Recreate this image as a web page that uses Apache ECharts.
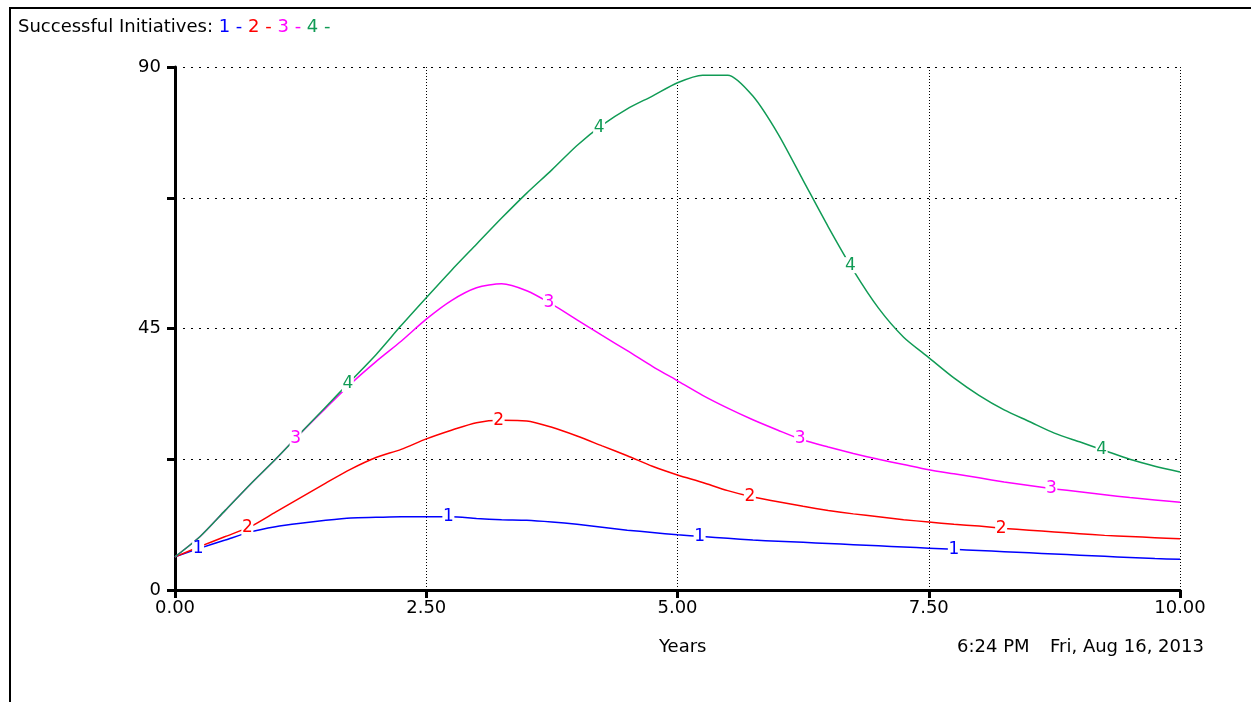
<!DOCTYPE html>
<html>

<head>
    <meta charset="utf-8" />
    <title>Successful Initiatives</title>
    <script src="https://cdn.jsdelivr.net/npm/echarts@6/dist/echarts.min.js"></script>
    <style>
        html, body { margin: 0; padding: 0; background: #fff; }
        #chart { width: 1251px; height: 702px; }
    </style>
</head>

<body>
    <div id="chart"></div>

    <script type="text/javascript">
        // time axis (years), step 0.25
        var years = [0, 0.25, 0.5, 0.75, 1, 1.25, 1.5, 1.75, 2, 2.25, 2.5, 2.75, 3, 3.25, 3.5, 3.75, 4, 4.25, 4.5, 4.75,
            5, 5.25, 5.5, 5.75, 6, 6.25, 6.5, 6.75, 7, 7.25, 7.5, 7.75, 8, 8.25, 8.5, 8.75, 9, 9.25, 9.5, 9.75, 10];

        var run1 = [5.7, 7.2, 8.6, 10.0, 10.9, 11.5, 12.0, 12.4, 12.5, 12.6, 12.6, 12.6, 12.3, 12.1, 12.0, 11.7, 11.3, 10.8, 10.3, 9.9,
            9.5, 9.2, 8.9, 8.6, 8.4, 8.2, 8.0, 7.8, 7.6, 7.4, 7.2, 7.0, 6.8, 6.6, 6.4, 6.2, 6.0, 5.8, 5.6, 5.4, 5.3];
        var run2 = [5.7, 7.5, 9.2, 10.9, 13.4, 15.9, 18.4, 20.8, 22.8, 24.2, 26.0, 27.5, 28.8, 29.2, 29.1, 28.0, 26.5, 24.8, 23.1, 21.3,
            19.8, 18.5, 17.1, 16.0, 15.2, 14.4, 13.7, 13.1, 12.6, 12.1, 11.7, 11.3, 11.0, 10.6, 10.3, 10.0, 9.7, 9.4, 9.2, 9.0, 8.8];
        var run3 = [5.7, 9.2, 13.7, 18.2, 22.5, 27.0, 31.3, 35.5, 39.3, 42.8, 46.6, 49.8, 52.0, 52.7, 51.5, 49.2, 46.5, 43.8, 41.2, 38.5,
            36.0, 33.5, 31.3, 29.3, 27.5, 25.8, 24.6, 23.5, 22.5, 21.6, 20.7, 20.0, 19.3, 18.6, 18.0, 17.4, 16.9, 16.4, 15.9, 15.5, 15.1];
        var run4 = [5.7, 9.2, 13.7, 18.2, 22.5, 27.0, 31.5, 36.0, 40.5, 45.5, 50.3, 55.0, 59.5, 64.0, 68.3, 72.3, 76.5, 80.0, 82.8, 85.0,
            87.3, 88.6, 88.6, 85.0, 78.5, 70.5, 62.5, 55.0, 48.5, 43.5, 40.0, 36.5, 33.5, 31.0, 29.0, 27.0, 25.5, 24.0, 22.5, 21.3, 20.3];

        // where the run numbers sit on each curve
        var tags1 = [0.23, 2.72, 5.22, 7.75];
        var tags2 = [0.72, 3.22, 5.72, 8.22];
        var tags3 = [1.2, 3.72, 6.22, 8.72];
        var tags4 = [1.72, 4.22, 6.72, 9.22];

        var yTicks = [0, 45, 90];

        var colors = ['#0000ff', '#ff0000', '#ff00ff', '#109b55'];
        var font = 'DejaVu Sans';

        function valueAt(vals, x) {
            for (var i = 1; i < years.length; i++) {
                if (x <= years[i]) {
                    var t = (x - years[i - 1]) / (years[i] - years[i - 1]);
                    return vals[i - 1] + t * (vals[i] - vals[i - 1]);
                }
            }
            return vals[vals.length - 1];
        }

        function makeSeries(name, vals, tags, color) {
            return {
                name: name,
                type: 'line',
                symbol: 'none',
                smooth: 0.25,
                data: years.map(function (y, i) { return [y, vals[i]]; }),
                lineStyle: { color: color, width: 1.5 },
                itemStyle: { color: color },
                markPoint: {
                    symbol: 'rect',
                    symbolSize: [12, 16],
                    itemStyle: { color: '#fff' },
                    label: {
                        show: true,
                        position: 'inside',
                        color: color,
                        fontSize: 17,
                        fontFamily: font,
                        formatter: function () { return name; }
                    },
                    data: tags.map(function (x) {
                        return { coord: [x, valueAt(vals, x)] };
                    })
                }
            };
        }

        var myChart = echarts.init(document.getElementById('chart'));

        myChart.setOption({
            animation: false,
            textStyle: { fontFamily: font },
            grid: {
                left: 175,
                right: 71,
                top: 67,
                bottom: 112
            },
            xAxis: {
                type: 'value',
                min: 0,
                max: 10,
                interval: 2.5,
                axisLine: { lineStyle: { color: '#000', width: 3 } },
                axisTick: { length: 8, lineStyle: { color: '#000', width: 3 } },
                axisLabel: {
                    color: '#000',
                    fontSize: 18,
                    margin: 9,
                    formatter: function (v) { return v.toFixed(2); }
                },
                splitLine: { show: true, lineStyle: { color: '#000', width: 1, type: [1, 2] } }
            },
            yAxis: {
                type: 'value',
                min: 0,
                max: 90,
                interval: 22.5,
                axisLine: { show: true, lineStyle: { color: '#000', width: 3 } },
                axisTick: { show: true, length: 8, lineStyle: { color: '#000', width: 3 } },
                axisLabel: {
                    color: '#000',
                    fontSize: 18,
                    margin: 14,
                    formatter: function (v) {
                        return yTicks.indexOf(v) >= 0 ? String(v) : '';
                    }
                },
                splitLine: { show: true, lineStyle: { color: '#000', width: 1, type: [2, 6] } }
            },
            graphic: [
                // window frame
                { type: 'rect', shape: { x: 9, y: 7, width: 2, height: 702 }, style: { fill: '#000' } },
                { type: 'rect', shape: { x: 9, y: 7, width: 1251, height: 2 }, style: { fill: '#000' } },
                {
                    type: 'text',
                    left: 18,
                    top: 18,
                    style: {
                        text: '{k|Successful Initiatives: }{a|1 - }{b|2 - }{c|3 - }{d|4 -}',
                        font: '18px ' + font,
                        rich: {
                            k: { fill: '#000', fontSize: 18, fontFamily: font },
                            a: { fill: colors[0], fontSize: 18, fontFamily: font },
                            b: { fill: colors[1], fontSize: 18, fontFamily: font },
                            c: { fill: colors[2], fontSize: 18, fontFamily: font },
                            d: { fill: colors[3], fontSize: 18, fontFamily: font }
                        }
                    }
                },
                {
                    type: 'text',
                    left: 659,
                    top: 638,
                    style: { text: 'Years', fill: '#000', font: '18px ' + font }
                },
                {
                    type: 'text',
                    left: 957,
                    top: 638,
                    style: { text: '6:24 PM', fill: '#000', font: '18px ' + font }
                },
                {
                    type: 'text',
                    left: 1050,
                    top: 638,
                    style: { text: 'Fri, Aug 16, 2013', fill: '#000', font: '18px ' + font }
                }
            ],
            series: [
                makeSeries('1', run1, tags1, colors[0]),
                makeSeries('2', run2, tags2, colors[1]),
                makeSeries('3', run3, tags3, colors[2]),
                makeSeries('4', run4, tags4, colors[3])
            ]
        });
    </script>

</body>

</html>
